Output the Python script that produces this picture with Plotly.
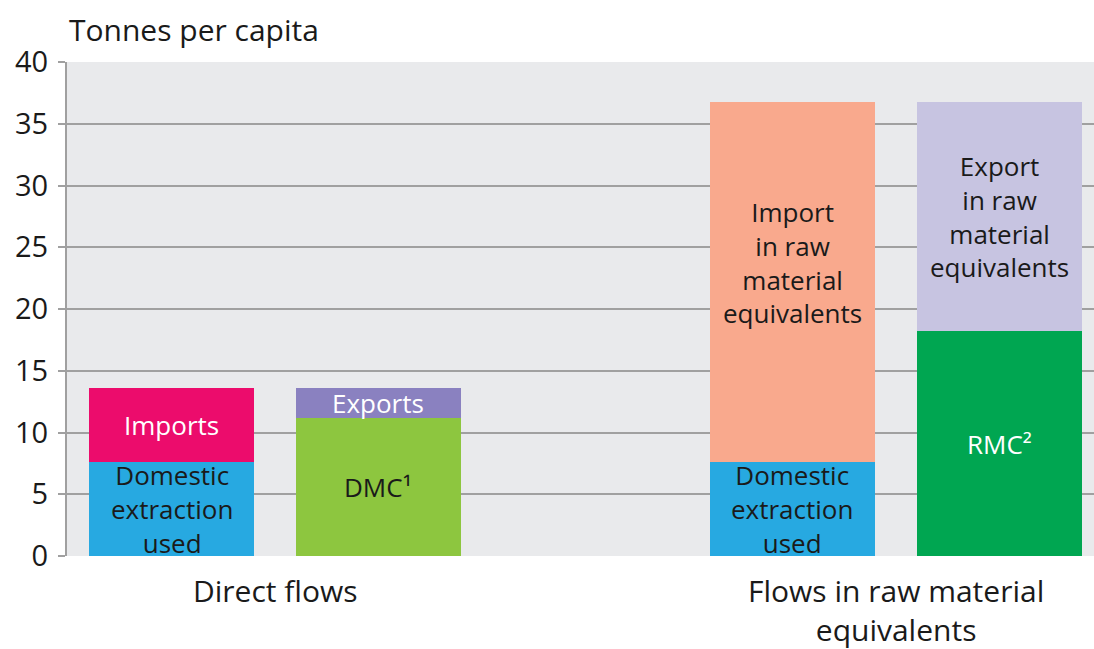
import plotly.graph_objects as go

# Data
bar_pos = [0, 1, 3, 4]
group_labels = ["Direct flows", "Flows in raw material<br>equivalents"]
group_pos = [0.5, 3.5]

# Bottom segments
bottom_names = ["Domestic<br>extraction<br>used", "DMC¹", "Domestic<br>extraction<br>used", "RMC²"]
bottom_vals = [7.6, 11.2, 7.6, 18.2]
bottom_colors = ["#27A9E1", "#8DC63F", "#27A9E1", "#00A651"]
bottom_text_colors = ["#1a1a1a", "#1a1a1a", "#1a1a1a", "#ffffff"]

# Top segments
top_names = ["Imports", "Exports", "Import<br>in raw<br>material<br>equivalents", "Export<br>in raw<br>material<br>equivalents"]
top_vals = [6.0, 2.4, 29.2, 18.6]
top_colors = ["#EC0C6C", "#8A81C0", "#F9A98D", "#C7C4E1"]
top_text_colors = ["#ffffff", "#ffffff", "#1a1a1a", "#1a1a1a"]
top_label_shift = [0, 0, 1.6, 0]

y_ticks = [0, 5, 10, 15, 20, 25, 30, 35, 40]

FONT = "Open Sans"

fig = go.Figure()
fig.add_trace(go.Bar(x=bar_pos, y=bottom_vals, marker=dict(color=bottom_colors, line=dict(width=0)),
                     width=0.8, showlegend=False, hoverinfo="skip"))
fig.add_trace(go.Bar(x=bar_pos, y=top_vals, base=bottom_vals, marker=dict(color=top_colors, line=dict(width=0)),
                     width=0.8, showlegend=False, hoverinfo="skip"))

annotations = []
for i, xp in enumerate(bar_pos):
    annotations.append(dict(x=xp, y=bottom_vals[i] / 2, text=bottom_names[i], showarrow=False,
                            font=dict(size=26, color=bottom_text_colors[i], family=FONT)))
    annotations.append(dict(x=xp, y=bottom_vals[i] + top_vals[i] / 2 + top_label_shift[i], text=top_names[i],
                            showarrow=False, font=dict(size=26, color=top_text_colors[i], family=FONT)))
for lab, gp in zip(group_labels, group_pos):
    annotations.append(dict(x=gp, y=0, yref="y", text=lab, showarrow=False, yanchor="top", yshift=-12,
                            font=dict(size=30, color="#1a1a1a", family=FONT)))
annotations.append(dict(x=0, xref="paper", y=1, yref="paper", xanchor="left", yanchor="bottom", yshift=10,
                        text="Tonnes per capita", showarrow=False,
                        font=dict(size=30, color="#1a1a1a", family=FONT)))

fig.update_layout(
    width=1094, height=649,
    margin=dict(l=67, r=0, t=62, b=93),
    paper_bgcolor="white", plot_bgcolor="#E9EAEC",
    barmode="overlay", bargap=0,
    annotations=annotations,
    font=dict(family=FONT, color="#1a1a1a"),
)
fig.update_xaxes(range=[-0.505, 4.457], showticklabels=False, showgrid=False, zeroline=False,
                 showline=False, ticks="")
fig.update_yaxes(range=[0, 40], tickvals=y_ticks, showgrid=True, gridcolor="#A0A0A0", gridwidth=2,
                 zeroline=False, showline=True, linecolor="#A0A0A0", linewidth=2,
                 ticks="outside", ticklen=7, tickcolor="#A0A0A0", tickwidth=2,
                 tickfont=dict(size=29, color="#1a1a1a", family=FONT), ticklabelstandoff=4)

fig.write_html("out.html", config={"displayModeBar": False},
               post_script="document.body.style.margin='0';document.body.style.overflow='hidden';")
